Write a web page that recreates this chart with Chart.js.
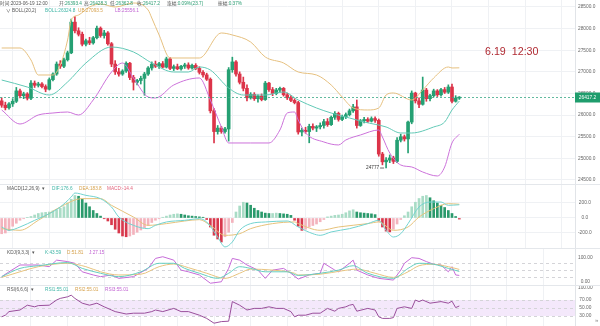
<!DOCTYPE html>
<html>
<head>
<meta charset="utf-8">
<script src="https://cdn.jsdelivr.net/npm/chart.js@4.4.0/dist/chart.umd.min.js"></script>
<style>
  body { margin: 0; background: #fff; width: 600px; height: 326px; overflow: hidden; position: relative; font-family: "Liberation Sans", Arial, sans-serif; }
  canvas { position: absolute; left: 0; }
  .sep { position: absolute; left: 0; width: 600px; height: 1px; background: #e4e7eb; }
  .t { position: absolute; font-size: 4.7px; line-height: 5px; white-space: pre; color: #555; font-family: "Liberation Sans", "Noto Sans CJK SC", sans-serif; }
  .g { color: #2a9d72; }
  .c1 { color: #3fb5a6; }
  .c2 { color: #d6a24e; }
  .c3 { color: #c062d2; }
  .c4 { color: #e0607a; }
  .big { position: absolute; left: 485px; top: 46px; font-size: 10.7px; line-height: 10.7px; color: #b02a32; white-space: pre; }
</style>
</head>
<body>
<canvas id="main" width="600" height="184" style="top:0"></canvas>
<canvas id="macd" width="600" height="64" style="top:184px"></canvas>
<canvas id="kdj" width="600" height="37" style="top:248px"></canvas>
<canvas id="rsi" width="600" height="41" style="top:285px"></canvas>
<div class="sep" style="top:184px"></div>
<div class="sep" style="top:248px"></div>
<div class="sep" style="top:285px"></div>

<div class="t" style="left:0;top:1px">时间:2023-06-19 12:00</div>
<div class="t" style="left:59px;top:1px">开:<span class="g">26393.4</span></div>
<div class="t" style="left:84px;top:1px">高:<span class="g">26428.3</span></div>
<div class="t" style="left:110px;top:1px">低:<span class="g">26362.8</span></div>
<div class="t" style="left:137px;top:1px">收:<span class="g">26417.2</span></div>
<div class="t" style="left:167px;top:1px">涨幅:<span class="g">0.09%(23.7)</span></div>
<div class="t" style="left:218px;top:1px">振幅:<span class="g">0.37%</span></div>

<div class="t" style="left:6px;top:8px">∨ BOLL(20,2)</div>
<div class="t c1" style="left:45px;top:8px">BOLL:26324.8</div>
<div class="t c2" style="left:78px;top:8px">UB:27093.5</div>
<div class="t c3" style="left:115px;top:8px">LB:25556.1</div>

<div class="t" style="left:7px;top:186px">MACD(12,26,9)  ▾</div>
<div class="t c1" style="left:52px;top:186px">DIF:176.6</div>
<div class="t c2" style="left:79px;top:186px">DEA:183.8</div>
<div class="t c4" style="left:107px;top:186px">MACD:-14.4</div>

<div class="t" style="left:7px;top:250px">KDJ(9,3,3)  ▾</div>
<div class="t c1" style="left:45px;top:250px">K:43.59</div>
<div class="t c2" style="left:67px;top:250px">D:51.81</div>
<div class="t c3" style="left:89px;top:250px">J:27.15</div>

<div class="t" style="left:7px;top:287px">RSI(6,6,6)  ▾</div>
<div class="t c1" style="left:45px;top:287px">RSI1:55.01</div>
<div class="t c2" style="left:75px;top:287px">RSI2:55.01</div>
<div class="t c3" style="left:105px;top:287px">RSI3:55.01</div>

<div class="big">6.19  12:30</div>
<div class="t" style="left:595px;top:318px;font-size:6px;color:#888">»</div>

<script>
// --- candles (30 min), index 0 = oldest ---
const opens = [26330,26230,26170,26260,26320,26560,26450,26490,26390,26740,26690,26720,26660,26600,26820,26950,27180,27130,27280,27440,
  28150,27950,27870,27640,27720,27670,27790,28010,27840,27900,27650,27180,27000,26950,27020,27200,26870,26760,26800,26850,
  26950,27090,27180,27130,27190,27110,27300,27080,27120,27070,27130,27160,27090,27150,27080,26990,26930,26830,26100,25620,
  25700,25620,25680,27050,27230,26950,26760,26620,26400,26480,26380,26440,26360,26740,26590,26500,26580,26620,26470,26400,
  26340,26290,25610,25650,25620,25740,25700,25730,25760,25850,25780,25950,26040,25900,25960,26010,26100,26190,25760,25870,
  25900,25860,25920,25880,25100,24920,24960,25010,24930,25420,25500,25450,25840,26510,26330,26250,26580,26380,26450,26560,
  26470,26590,26530,26650,26320,26393.4];
const highs = [26400,26300,26290,26380,26640,26600,26530,26520,26800,26790,26760,26750,26700,26860,26980,27230,27260,27320,27480,28220,
  28280,28020,27920,27760,27800,27820,28060,28040,27960,27930,27680,27260,27080,27050,27230,27220,26920,26830,26900,26990,
  27120,27230,27250,27220,27240,27340,27330,27160,27180,27150,27200,27210,27180,27190,27120,27030,26970,26860,26150,25760,
  25740,25720,27100,27340,27260,27000,26880,26700,26520,26520,26470,26490,26780,26760,26640,26620,26650,26640,26510,26450,
  26380,26320,25700,25720,25790,25800,25760,25820,25900,25920,25980,26080,26070,26000,26050,26140,26250,26350,25900,25950,
  25940,25960,25960,25910,25140,25020,25080,25050,25480,25560,25540,25860,26560,26530,26400,26880,26620,26480,26600,26590,
  26620,26640,26700,26720,26450,26428.3];
const lows = [26180,26120,26140,26200,26290,26400,26380,26350,26360,26640,26650,26630,26540,26580,26790,26920,27080,27100,27250,27420,
  27900,27830,27600,27600,27630,27640,27760,27800,27780,27620,27120,26940,26900,26920,26990,26820,26580,26700,26720,26460,
  26920,27040,27100,27080,27090,27090,27050,27030,27050,27040,27080,27060,27060,27050,26950,26880,26800,26050,25360,25560,
  25580,25580,25400,26990,26900,26720,26560,26330,26370,26340,26300,26330,26340,26550,26450,26470,26530,26440,26360,26310,
  26260,25560,25520,25580,25360,25660,25620,25680,25700,25740,25760,25900,25860,25870,25920,25980,26060,25700,25740,25820,
  25830,25840,25830,25050,24850,24777,24900,24880,24900,25380,25400,25125,25800,26280,26170,26230,26320,26330,26420,26430,
  26440,26500,26500,26280,26300,26362.8];
const closes = [26230,26170,26260,26320,26560,26450,26490,26390,26740,26690,26720,26660,26600,26820,26950,27180,27130,27280,27440,28150,
  27950,27870,27640,27720,27670,27790,28010,27840,27900,27650,27180,27000,26950,27020,27200,26870,26760,26800,26850,26950,
  27090,27180,27130,27190,27110,27300,27080,27120,27070,27130,27160,27090,27150,27080,26990,26930,26830,26100,25620,25700,
  25620,25680,27050,27230,26950,26760,26620,26400,26480,26380,26440,26360,26740,26590,26500,26580,26620,26470,26400,26340,
  26290,25610,25650,25620,25740,25700,25730,25760,25850,25780,25950,26040,25900,25960,26010,26100,26190,25760,25870,25900,
  25860,25920,25880,25100,24920,24960,25010,24930,25420,25500,25450,25840,26510,26330,26250,26580,26380,26450,26560,26470,
  26590,26530,26650,26320,26393.4,26417.2];
const lowMark = { index: 105, value: 24777 };

// --- BOLL(20,2), [candle index, price] ---
const bollUpper = [[0,27552],[5,27552],[8,27275],[10,26928],[14,26928],[16,27159],[18,27737],[19,28199],[21,28315],[24,28500],[27,28569],
  [31,28500],[36,28592],[40,28431],[41,28246],[43,27853],[46,27321],[54,27321],[60,27899],[63,27853],[68,27691],[72,27344],[77,27205],
  [81,26997],[86,26928],[90,26697],[93,26419],[96,26165],[100,26119],[103,26165],[105,26465],[107,26512],[112,26350],[115,26581],
  [118,26859],[122,27113],[123,27090],[125,27093.5]];
const bollMid = [[0,26812],[7,26650],[13,26465],[18,26766],[23,27205],[30,27575],[36,27460],[41,27205],[47,26997],[51,26997],[54,27113],
  [57,27043],[62,26627],[66,26465],[72,26465],[77,26535],[81,26350],[86,26165],[90,26049],[95,25934],[99,25841],[105,25726],[109,25587],
  [112,25587],[118,25726],[121,25841],[123,26119],[125,26324.8]];
const bollLower = [[0,26119],[5,25795],[10,26003],[14,26049],[18,26072],[21,26003],[25,26350],[30,26997],[33,27205],[36,26859],[40,26419],
  [42,26396],[47,26697],[54,26859],[57,26350],[60,25726],[62,25356],[68,25356],[73,25356],[76,25656],[78,26049],[80,26072],[81,25888],
  [83,25587],[88,25379],[92,25310],[94,25425],[98,25541],[103,25656],[104,25494],[106,25124],[109,24847],[112,24801],[115,24685],
  [119,24593],[121,24801],[123,25356],[125,25556.1]];

// --- MACD(12,26,9) ---
const macdHist = [-210,-200,-170,-110,-70,-30,-10,5,20,40,60,70,75,80,95,110,130,150,200,250,
  300,290,250,200,150,100,60,25,-10,-40,-90,-150,-200,-240,-250,-240,-220,-190,-160,-130,
  -100,-60,-30,-10,10,25,40,50,55,50,40,30,25,20,15,10,-20,-120,-230,-280,
  -320,-250,-190,-60,80,160,210,200,170,130,100,80,65,60,60,65,60,55,50,35,
  -30,-110,-165,-150,-120,-100,-80,-50,-20,15,25,35,40,50,70,95,110,80,70,65,
  60,55,45,-40,-120,-175,-185,-150,-80,-20,30,80,150,210,260,290,300,270,230,200,
  170,140,100,60,20,-14.4];
const macdDif = [[0,-120],[2,-164],[5,-120],[9,-31],[13,58],[16,147],[19,280],[20,333],[23,302],[27,258],[30,147],[32,13],[36,-98],
  [40,-142],[42,-98],[45,-53],[50,-31],[54,-9],[56,-53],[59,-253],[61,-386],[63,-320],[65,-164],[68,-75],[72,-53],[78,-40],[81,-120],
  [85,-209],[87,-231],[90,-186],[95,-142],[100,-75],[103,-31],[105,-164],[107,-253],[109,-209],[111,-75],[114,147],[117,213],
  [120,213],[122,169],[125,176.6]];
const macdDea = [[0,-142],[5,-164],[10,-31],[16,147],[22,258],[27,258],[30,169],[36,13],[40,-98],[45,-75],[50,-40],[54,-22],[57,-98],
  [61,-231],[65,-209],[68,-142],[74,-75],[80,-53],[81,-75],[87,-164],[92,-120],[100,-75],[103,-53],[107,-164],[111,-120],[114,13],
  [118,124],[122,191],[125,183.8]];

// --- KDJ(9,3,3) ---
const kdjK = [[0,22],[5,56],[10,67],[18,80],[22,56],[27,36],[32,22],[38,42],[43,77],[47,77],[50,56],[54,36],[59,15],[62,36],[65,63],
  [68,56],[72,42],[78,42],[81,27],[87,36],[92,49],[96,67],[100,36],[107,15],[111,56],[114,77],[118,73],[122,56],[125,43.59]];
const kdjD = [[0,19],[5,42],[10,63],[18,77],[23,63],[27,42],[32,29],[38,32],[43,63],[47,74],[51,59],[56,36],[61,15],[65,36],[68,53],
  [74,49],[80,36],[81,29],[87,32],[93,46],[97,53],[102,36],[107,19],[111,42],[114,67],[118,73],[122,63],[125,51.81]];
const kdjJ = [[0,22],[2,42],[5,70],[8,70],[10,70],[13,63],[15,90],[18,84],[20,77],[22,42],[25,29],[27,22],[30,29],[32,15],[36,22],
  [40,56],[42,97],[44,104],[47,90],[49,49],[51,42],[54,29],[57,-5],[60,1],[62,56],[63,97],[65,90],[67,70],[70,49],[72,15],[74,49],
  [77,56],[79,36],[81,12],[84,29],[87,36],[88,77],[91,49],[92,42],[95,77],[96,90],[97,49],[100,29],[103,15],[107,8],[109,49],
  [110,77],[112,100],[114,97],[116,84],[118,73],[120,70],[122,42],[123,63],[124,29],[125,27.15]];
const kdjLevels = [80, 50, 20];

// --- RSI(6) ---
const rsi = [[0,28],[1,32],[2,41],[5,45],[7,57],[9,53],[10,56],[13,57],[15,70],[16,74],[18,78],[19,82],[20,74],[22,62],[24,57],
  [26,62],[28,53],[30,45],[31,41],[34,35],[36,37],[39,37],[41,41],[42,45],[44,41],[47,49],[49,41],[51,41],[54,32],[56,24],[58,12],
  [60,16],[62,17],[63,66],[65,57],[67,45],[69,49],[71,49],[73,53],[75,49],[77,49],[79,41],[80,28],[81,32],[83,32],[85,37],[87,37],
  [89,49],[91,42],[92,49],[94,53],[95,57],[96,59],[97,42],[100,49],[102,45],[103,28],[104,24],[106,24],[107,26],[108,49],[110,53],
  [112,49],[113,70],[114,66],[115,70],[117,62],[120,66],[122,62],[123,67],[124,51],[125,55.01]];
const rsiLevels = [70, 50, 30];

const priceTicks = [24500, 25000, 25500, 26000, 26500, 27000, 27500, 28000, 28500];
const macdTicks = [-200, 0, 200];
const kdjTicks = [0, 100];
const rsiTicks = [30, 50, 70, 100];

// --- styles ---
const UP = '#25a073', DOWN = '#dc3449';
const GRID = '#eff1f4';
const pts = arr => arr.map(p => ({ x: p[0], y: p[1] }));
const idx = closes.map((_, i) => i);
const candleColor = idx.map(i => closes[i] >= opens[i] ? UP : DOWN);

const overlay = {
  id: 'overlay',
  beforeDatasetsDraw(chart, args, o) {
    const { ctx, chartArea: a, scales: { y } } = chart;
    ctx.save();
    if (o.band) {
      const y1 = y.getPixelForValue(o.band[0]), y2 = y.getPixelForValue(o.band[1]);
      ctx.fillStyle = '#f4e8fb';
      ctx.fillRect(a.left, y1, a.right - a.left, y2 - y1);
    }
    ctx.strokeStyle = '#d4d4d8';
    ctx.lineWidth = 1;
    ctx.setLineDash([3, 3]);
    (o.levels || []).forEach(v => {
      const py = Math.round(y.getPixelForValue(v)) + 0.5;
      ctx.beginPath(); ctx.moveTo(a.left, py); ctx.lineTo(a.right, py); ctx.stroke();
    });
    ctx.restore();
  },
  afterDraw(chart, args, o) {
    const { ctx, chartArea: a, scales: { x, y } } = chart;
    ctx.save();
    if (o.low) {
      const px = x.getPixelForValue(o.low.index), py = y.getPixelForValue(o.low.value);
      ctx.strokeStyle = '#444'; ctx.lineWidth = 0.8;
      ctx.beginPath(); ctx.moveTo(px - 6, py); ctx.lineTo(px - 2, py); ctx.stroke();
      ctx.fillStyle = '#333'; ctx.font = '4.7px "Liberation Sans"';
      ctx.textAlign = 'right'; ctx.textBaseline = 'middle';
      ctx.fillText(String(o.low.value), px - 7, py);
    }
    if (o.last !== undefined) {
      const py = Math.round(y.getPixelForValue(o.last)) + 0.5;
      ctx.strokeStyle = '#3aa887'; ctx.lineWidth = 0.8; ctx.setLineDash([2, 2]);
      ctx.beginPath(); ctx.moveTo(a.left, py); ctx.lineTo(a.right, py); ctx.stroke();
      ctx.setLineDash([]);
      ctx.fillStyle = '#1f9d6d';
      ctx.fillRect(a.right, py - 5, 25, 10);
      ctx.fillStyle = '#fff'; ctx.font = '4.8px "Liberation Sans"';
      ctx.textAlign = 'center'; ctx.textBaseline = 'middle';
      ctx.fillText(o.last.toFixed(1), a.right + 12.5, py);
    }
    ctx.restore();
  }
};

function options(yMin, yMax, ticks, digits, showGrid, extra) {
  return {
    responsive: false, animation: false,
    layout: { padding: 0 },
    plugins: { legend: { display: false }, tooltip: { enabled: false }, overlay: extra },
    scales: {
      x: {
        type: 'linear', min: -0.46, max: 156.6, offset: false,
        ticks: { display: false }, border: { display: false },
        grid: { color: GRID, drawTicks: false },
        afterBuildTicks: s => { s.ticks = []; for (let v = 8; v < s.max; v += 10) s.ticks.push({ value: v }); },
        afterFit: s => { s.height = 0; s.paddingLeft = 0; s.paddingRight = 0; }
      },
      y: {
        position: 'right', min: yMin, max: yMax,
        border: { color: '#e1e4e8' },
        grid: { display: showGrid, color: GRID, drawTicks: false },
        ticks: { color: '#666', font: { size: 4.8, family: 'Liberation Sans' }, padding: 3, crossAlign: 'center',
                 callback: v => Number(v).toFixed(digits) },
        afterBuildTicks: s => { s.ticks = ticks.map(v => ({ value: v })); },
        afterFit: s => { s.width = 25; s.paddingTop = 0; s.paddingBottom = 0; }
      }
    }
  };
}

const line = (data, color, smooth) => ({
  type: 'line', data: pts(data), borderColor: color, borderWidth: 1, pointRadius: 0,
  cubicInterpolationMode: smooth ? 'monotone' : 'default', tension: 0, order: 0
});

new Chart(document.getElementById('main'), {
  type: 'bar',
  data: {
    datasets: [
      line(bollUpper, '#e6c07f', true),
      line(bollMid, '#62c9b6', true),
      line(bollLower, '#cc72da', true),
      { data: idx.map(i => ({ x: i, y: [lows[i], highs[i]] })), backgroundColor: candleColor,
        barThickness: 1, grouped: false, order: 2 },
      { data: idx.map(i => ({ x: i, y: [opens[i], closes[i]] })), backgroundColor: candleColor,
        barThickness: 3, minBarLength: 1, grouped: false, order: 1 }
    ]
  },
  options: options(24407.5, 28661.8, priceTicks, 1, true, { last: closes[closes.length - 1], low: lowMark }),
  plugins: [overlay]
});

const histColors = macdHist.map((v, i) => {
  const rising = i === 0 || v >= macdHist[i - 1];
  if (v >= 0) return rising ? '#a9dcc6' : '#2a9a6c';
  return rising ? '#f3b3bd' : '#d8384c';
});

new Chart(document.getElementById('macd'), {
  type: 'bar',
  data: {
    datasets: [
      line(macdDif, '#72d3d0', true),
      line(macdDea, '#e6c27a', true),
      { data: idx.map(i => ({ x: i, y: macdHist[i] })), backgroundColor: histColors,
        barThickness: 2, grouped: false, order: 1 }
    ]
  },
  options: options(-400, 453.3, macdTicks, 1, true, {}),
  plugins: [overlay]
});

new Chart(document.getElementById('kdj'), {
  type: 'line',
  data: {
    datasets: [
      line(kdjK, '#66cfc0', true),
      line(kdjD, '#e8c47f', true),
      line(kdjJ, '#c66bd8', false)
    ]
  },
  options: options(-12.3, 139.9, kdjTicks, 2, false, { levels: kdjLevels }),
  plugins: [overlay]
});

new Chart(document.getElementById('rsi'), {
  type: 'line',
  data: { datasets: [line(rsi, '#9a4f9c', false)] },
  options: options(5, 107.5, rsiTicks, 2, false, { band: [70, 30], levels: rsiLevels }),
  plugins: [overlay]
});
</script>
</body>
</html>
